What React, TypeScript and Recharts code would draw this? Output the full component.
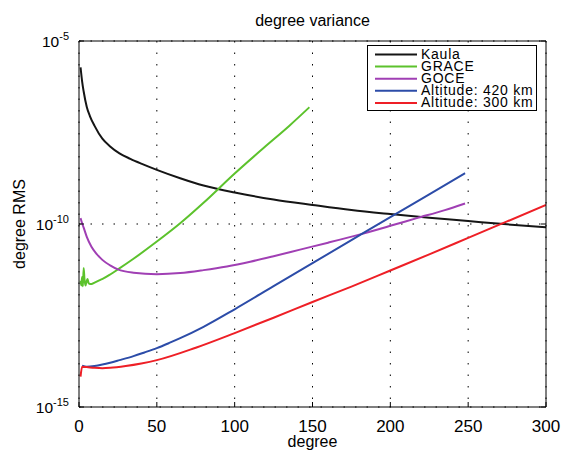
import { LineChart, Line, XAxis, YAxis, CartesianGrid, Legend } from 'recharts';

// degree RMS curves, stored as (degree, log10 of RMS) pairs
const kaulaDeg = [1, 2, 3, 5, 7, 10, 15, 20, 26, 33, 40, 50, 65, 80, 100, 125, 150, 175, 200, 225, 250, 275, 300];
const kaulaExp = [-5.72, -6.1, -6.38, -6.8, -7.05, -7.32, -7.67, -7.88, -8.07, -8.22, -8.35, -8.52, -8.75, -8.95, -9.14, -9.33, -9.48, -9.62, -9.73, -9.83, -9.92, -10.01, -10.09];

const graceDeg = [1, 1.5, 2, 2.5, 3, 3.5, 4.2, 5, 5.5, 6.2, 8, 10, 13, 16, 20, 25, 35, 50, 65, 80, 100, 120, 135, 148];
const graceExp = [-11.55, -11.68, -11.45, -11.7, -11.2, -11.5, -11.68, -11.55, -11.5, -11.62, -11.64, -11.6, -11.54, -11.48, -11.38, -11.24, -10.95, -10.48, -9.98, -9.42, -8.62, -7.87, -7.32, -6.81];

const goceDeg = [1, 2, 3, 5, 8, 11, 15, 20, 25, 35, 50, 65, 80, 95, 110, 125, 142, 160, 180, 200, 217, 235, 248];
const goceExp = [-9.84, -9.98, -10.1, -10.35, -10.62, -10.8, -10.98, -11.13, -11.24, -11.33, -11.37, -11.34, -11.26, -11.16, -11.03, -10.88, -10.7, -10.51, -10.29, -10.05, -9.84, -9.62, -9.44];

const alt420Deg = [2, 5, 10, 15, 20, 26, 35, 42, 50, 58, 65, 80, 100, 125, 150, 175, 200, 225, 248];
const alt420Exp = [-13.87, -13.9, -13.88, -13.84, -13.79, -13.72, -13.61, -13.51, -13.39, -13.25, -13.12, -12.81, -12.33, -11.7, -11.07, -10.44, -9.81, -9.19, -8.61];

const alt300Deg = [1, 2, 5, 10, 15, 20, 30, 40, 50, 75, 100, 125, 150, 175, 200, 225, 250, 275, 300];
const alt300Exp = [-14.17, -13.9, -13.91, -13.93, -13.94, -13.93, -13.88, -13.81, -13.72, -13.38, -12.98, -12.56, -12.13, -11.71, -11.27, -10.83, -10.38, -9.93, -9.48];

const xTicks = [0, 50, 100, 150, 200, 250, 300];
const yTicks = [1e-15, 1e-10, 1e-5];

const font = '"Liberation Sans", Arial, Helvetica, sans-serif';

const toPoints = (deg: number[], exp: number[]) =>
  deg.map((d, i) => ({ degree: d, rms: Math.pow(10, exp[i]) }));

const series = [
  { name: 'Kaula', color: '#151515', data: toPoints(kaulaDeg, kaulaExp) },
  { name: 'GRACE', color: '#5cc22c', data: toPoints(graceDeg, graceExp) },
  { name: 'GOCE', color: '#a03fb4', data: toPoints(goceDeg, goceExp) },
  { name: 'Altitude: 420 km', color: '#2c4ca8', data: toPoints(alt420Deg, alt420Exp) },
  { name: 'Altitude: 300 km', color: '#ee1f26', data: toPoints(alt300Deg, alt300Exp) },
];

// ticks point inward, like a boxed matlab axes
const BottomTick = ({ x, y, payload }: any) => (
  <g>
    <line x1={x} y1={y} x2={x} y2={y - 5} stroke="#000" />
    <text x={x} y={y + 25} textAnchor="middle" fontSize={17} fill="#000" fontFamily={font}>
      {payload.value}
    </text>
  </g>
);

const TopTick = ({ x, y }: any) => <line x1={x} y1={y} x2={x} y2={y + 5} stroke="#000" />;

const LeftTick = ({ x, y, payload }: any) => {
  const exp = Math.round(Math.log10(payload.value));
  return (
    <g>
      <line x1={x} y1={y} x2={x + 5} y2={y} stroke="#000" />
      <text x={x - 10} y={y + 6} textAnchor="end" fill="#000" fontFamily={font}>
        <tspan fontSize={15.5}>10</tspan>
        <tspan fontSize={11} dy={-7}>{`-${Math.abs(exp)}`}</tspan>
      </text>
    </g>
  );
};

const RightTick = ({ x, y }: any) => <line x1={x} y1={y} x2={x - 5} y2={y} stroke="#000" />;

const renderLegend = () => (
  <svg width={170} height={66} style={{ display: 'block' }}>
    <rect x={0.5} y={0.5} width={169} height={65} fill="#fff" stroke="#000" />
    {series.map((s, i) => (
      <g key={s.name}>
        <line x1={8} x2={50} y1={9.5 + i * 12.1} y2={9.5 + i * 12.1} stroke={s.color} strokeWidth={2} />
        <text x={54} y={13.8 + i * 12.1} fontSize={14} letterSpacing={0.75} fill="#000" fontFamily={font}>
          {s.name}
        </text>
      </g>
    ))}
  </svg>
);

export default function App() {
  return (
    <div style={{ position: 'absolute', left: 0, top: 0, background: '#fff' }}>
      <LineChart width={564} height={452} margin={{ top: 0, right: 0, bottom: 0, left: 0 }} style={{ fontFamily: font }}>
        <CartesianGrid
          stroke="#000"
          strokeDasharray="1.5 10"
          horizontalValues={yTicks}
          verticalValues={xTicks}
        />
        <XAxis
          dataKey="degree"
          type="number"
          domain={[0, 300]}
          ticks={xTicks}
          allowDataOverflow
          height={45}
          axisLine={{ stroke: '#000' }}
          tickLine={false}
          tickSize={0}
          tickMargin={0}
          tick={<BottomTick />}
          label={{ value: 'degree', position: 'insideBottom', offset: 5, fontSize: 16, fill: '#000' }}
        />
        <XAxis
          xAxisId="top"
          orientation="top"
          type="number"
          domain={[0, 300]}
          ticks={xTicks}
          allowDataOverflow
          height={41}
          axisLine={{ stroke: '#000' }}
          tickLine={false}
          tickSize={0}
          tickMargin={0}
          tick={<TopTick />}
          label={{ value: 'degree variance', position: 'insideTop', offset: 15, fontSize: 16, fill: '#000' }}
        />
        <YAxis
          type="number"
          scale="log"
          domain={[1e-15, 1e-5]}
          ticks={yTicks}
          allowDataOverflow
          width={79}
          axisLine={{ stroke: '#000' }}
          tickLine={false}
          tickSize={0}
          tickMargin={0}
          tick={<LeftTick />}
          label={{
            value: 'degree RMS',
            angle: -90,
            position: 'insideLeft',
            offset: 19,
            fontSize: 16,
            fill: '#000',
            style: { textAnchor: 'middle' },
          }}
        />
        <YAxis
          yAxisId="right"
          orientation="right"
          type="number"
          scale="log"
          domain={[1e-15, 1e-5]}
          ticks={yTicks}
          allowDataOverflow
          width={18}
          axisLine={{ stroke: '#000' }}
          tickLine={false}
          tickSize={0}
          tickMargin={0}
          tick={<RightTick />}
        />
        {series.map((s) => (
          <Line
            key={s.name}
            name={s.name}
            data={s.data}
            dataKey="rms"
            type="monotone"
            stroke={s.color}
            strokeWidth={2}
            dot={false}
            activeDot={false}
            isAnimationActive={false}
          />
        ))}
        <Legend
          layout="vertical"
          align="center"
          verticalAlign="middle"
          wrapperStyle={{ left: 367, top: 45, width: 170, height: 66 }}
          content={renderLegend}
        />
      </LineChart>
    </div>
  );
}
